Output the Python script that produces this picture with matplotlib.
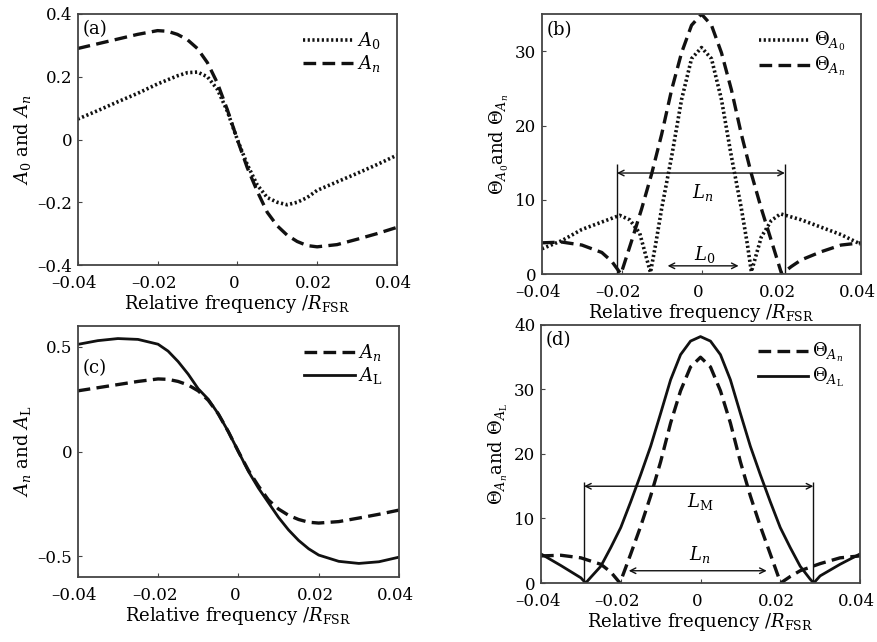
import numpy as np
import matplotlib
matplotlib.use("Agg")
import matplotlib.pyplot as plt
from matplotlib.ticker import FuncFormatter
from matplotlib.transforms import ScaledTranslation

plt.rcParams['font.family'] = ['DejaVu Serif']
plt.rcParams['mathtext.fontset'] = 'dejavuserif'

# ---- data ----
# (a)/(c) amplitude curves
freq = [-0.04, -0.035, -0.03, -0.025, -0.02, -0.0175, -0.015, -0.0125, -0.01,
        -0.0075, -0.005, -0.0025, 0.0, 0.0025, 0.005, 0.0075, 0.01, 0.0125,
        0.015, 0.0175, 0.02, 0.025, 0.03, 0.035, 0.04]
A0 = [0.065, 0.092, 0.12, 0.147, 0.177, 0.19, 0.203, 0.213, 0.215,
      0.2, 0.16, 0.09, 0.0, -0.08, -0.145, -0.185, -0.2, -0.208,
      -0.2, -0.185, -0.162, -0.135, -0.108, -0.08, -0.05]
An = [0.29, 0.305, 0.32, 0.335, 0.347, 0.345, 0.335, 0.318, 0.29,
      0.245, 0.18, 0.095, 0.0, -0.09, -0.165, -0.232, -0.275, -0.305,
      -0.325, -0.338, -0.342, -0.335, -0.318, -0.3, -0.28]
AL = [0.512, 0.53, 0.54, 0.536, 0.513, 0.48, 0.43, 0.37, 0.30,
      0.25, 0.18, 0.095, 0.0, -0.095, -0.175, -0.245, -0.315, -0.375,
      -0.425, -0.465, -0.495, -0.525, -0.535, -0.527, -0.505]

# (b)/(d) curves, each with its own frequency samples
f_th0 = [-0.04, -0.035, -0.03, -0.025, -0.0205, -0.018, -0.0155, -0.0128,
         -0.0115, -0.01, -0.0075, -0.005, -0.0025, 0.0, 0.0025, 0.005,
         0.0075, 0.01, 0.0115, 0.0125, 0.015, 0.0175, 0.0198, 0.025,
         0.03, 0.035, 0.04]
th_A0 = [3.4, 4.5, 6.0, 7.0, 7.9, 7.3, 5.5, 0.2,
         4.0, 8.8, 15.8, 23.5, 29.0, 30.5, 29.0, 23.5,
         15.8, 8.8, 4.0, 0.3, 5.0, 7.2, 8.1, 7.3,
         6.3, 5.3, 4.0]
f_thn = [-0.04, -0.035, -0.03, -0.025, -0.0225, -0.0202, -0.0175, -0.015,
         -0.0125, -0.01, -0.0075, -0.005, -0.0025, 0.0, 0.0025, 0.005,
         0.0075, 0.01, 0.0125, 0.015, 0.0175, 0.0201, 0.0225, 0.025,
         0.03, 0.035, 0.04]
th_An = [4.2, 4.3, 3.9, 2.9, 1.7, 0.0, 4.5, 8.8,
         13.5, 18.8, 24.8, 29.8, 33.5, 35.0, 33.5, 29.8,
         24.8, 18.8, 13.5, 8.8, 4.5, 0.0, 1.0, 1.9,
         3.0, 3.9, 4.2]
f_thL = [-0.04, -0.035, -0.03, -0.0288, -0.0275, -0.025, -0.0225, -0.02,
         -0.0175, -0.015, -0.0125, -0.01, -0.0075, -0.005, -0.0025, 0.0,
         0.0025, 0.005, 0.0075, 0.01, 0.0125, 0.015, 0.0175, 0.02,
         0.0225, 0.025, 0.0275, 0.0284, 0.03, 0.035, 0.04]
th_AL = [4.5, 2.7, 0.8, 0.0, 0.9, 2.6, 5.5, 8.6,
         12.6, 16.8, 21.2, 26.3, 31.5, 35.4, 37.5, 38.2,
         37.5, 35.4, 31.5, 26.3, 21.2, 16.8, 12.6, 8.6,
         5.5, 2.6, 0.6, 0.0, 1.1, 2.9, 4.5]

# widths marked in (b) and (d)
Ln_b = [-0.0212, 0.0209]
L0_b = [-0.0085, 0.0093]
LM_d = [-0.0292, 0.0283]
Ln_d = [-0.018, 0.0166]

DOT = (0, (0.6, 0.7))
DASH = (0, (3.8, 1.9))
BLACK = '#111111'
FS = 13
TICK_FS = 12

xtick_vals = [-0.04, -0.02, 0, 0.02, 0.04]


def fmt(v, pos=None):
    if abs(v) < 1e-12:
        return '0'
    return ('%g' % v).replace('-', '\u2013')


def style_axes(ax, label):
    ax.set_xlim(-0.04, 0.04)
    ax.set_xticks(xtick_vals)
    ax.xaxis.set_major_formatter(FuncFormatter(fmt))
    ax.yaxis.set_major_formatter(FuncFormatter(fmt))
    ax.tick_params(direction='in', length=3, labelsize=TICK_FS, color='#444444')
    ax.tick_params(axis='x', pad=7.5)
    ax.tick_params(axis='y', pad=4)
    # reference x tick labels sit a few pixels left of their ticks
    shift = ScaledTranslation(-3.5 / 100, 0, fig.dpi_scale_trans)
    for lab in ax.get_xticklabels():
        lab.set_transform(lab.get_transform() + shift)
    for s in ax.spines.values():
        s.set_color('#444444')
        s.set_linewidth(1.3)
    ax.set_xlabel(r'Relative frequency /$R_{\mathrm{FSR}}$', fontsize=FS, labelpad=0.5)
    ax.text(0.015, 0.975, label, transform=ax.transAxes, fontsize=FS,
            ha='left', va='top')


def width_marker(ax, xs, y, label, ly):
    ax.annotate('', xy=(xs[0], y), xytext=(xs[1], y),
                arrowprops=dict(arrowstyle='<->', color=BLACK, lw=1.0,
                                shrinkA=0, shrinkB=0, mutation_scale=10))
    ax.text((xs[0] + xs[1]) / 2 + 0.0005, ly, label, fontsize=FS,
            ha='center', va='center')


fig = plt.figure(figsize=(8.77, 6.42), dpi=100)
ax_a = fig.add_axes([0.0886, 0.5872, 0.364, 0.391])
ax_b = fig.add_axes([0.618, 0.5732, 0.3638, 0.4048])
ax_c = fig.add_axes([0.0886, 0.1012, 0.3664, 0.391])
ax_d = fig.add_axes([0.6169, 0.0919, 0.3637, 0.4019])

# (a)
ax_a.plot(freq, A0, color=BLACK, lw=2.6, linestyle=DOT, label=r'$A_0$')
ax_a.plot(freq, An, color=BLACK, lw=2.4, linestyle=DASH, label=r'$A_n$')
ax_a.set_ylim(-0.4, 0.4)
ax_a.set_yticks([-0.4, -0.2, 0, 0.2, 0.4])
ax_a.set_ylabel(r'$A_0$ and $A_n$', fontsize=FS, labelpad=3)
style_axes(ax_a, '(a)')

# (b)
ax_b.plot(f_th0, th_A0, color=BLACK, lw=2.6, linestyle=DOT,
          label=r'$\mathit{Θ}_{A_0}$')
ax_b.plot(f_thn, th_An, color=BLACK, lw=2.4, linestyle=DASH,
          label=r'$\mathit{Θ}_{A_n}$')
ax_b.set_ylim(0, 35)
ax_b.set_yticks([0, 10, 20, 30])
ax_b.set_ylabel(r'$\mathit{Θ}_{A_0}$and $\mathit{Θ}_{A_n}$', fontsize=FS, labelpad=3)
ax_b.vlines(Ln_b, 0, 14.8, color=BLACK, lw=1.0)
width_marker(ax_b, Ln_b, 13.6, r'$L_n$', 11.0)
width_marker(ax_b, L0_b, 1.1, r'$L_0$', 2.6)
style_axes(ax_b, '(b)')

# (c)
ax_c.plot(freq, An, color=BLACK, lw=2.4, linestyle=DASH, label=r'$A_n$')
ax_c.plot(freq, AL, color=BLACK, lw=2.0, linestyle='-', label=r'$A_{\mathrm{L}}$')
ax_c.set_ylim(-0.6, 0.6)
ax_c.set_yticks([-0.5, 0, 0.5])
ax_c.set_ylabel(r'$A_n$ and $A_{\mathrm{L}}$', fontsize=FS, labelpad=3)
style_axes(ax_c, '(c)')
ax_c.texts[-1].set_position((0.015, 0.87))

# (d)
ax_d.plot(f_thn, th_An, color=BLACK, lw=2.4, linestyle=DASH,
          label=r'$\mathit{Θ}_{A_n}$')
ax_d.plot(f_thL, th_AL, color=BLACK, lw=2.0, linestyle='-',
          label=r'$\mathit{Θ}_{A_{\mathrm{L}}}$')
ax_d.set_ylim(0, 40)
ax_d.set_yticks([0, 10, 20, 30, 40])
ax_d.set_ylabel(r'$\mathit{Θ}_{A_n}$and $\mathit{Θ}_{A_{\mathrm{L}}}$', fontsize=FS, labelpad=3)
ax_d.vlines(LM_d, 0, 15.7, color=BLACK, lw=1.0)
width_marker(ax_d, LM_d, 15.0, r'$L_{\mathrm{M}}$', 12.6)
width_marker(ax_d, Ln_d, 1.9, r'$L_n$', 4.4)
style_axes(ax_d, '(d)')

for ax in (ax_a, ax_b, ax_c, ax_d):
    ax.legend(loc='upper right', frameon=False, fontsize=FS, handlelength=2.8,
              handletextpad=0.2, labelspacing=0.1, borderaxespad=0.5)

fig.savefig('out.png', dpi=100)
